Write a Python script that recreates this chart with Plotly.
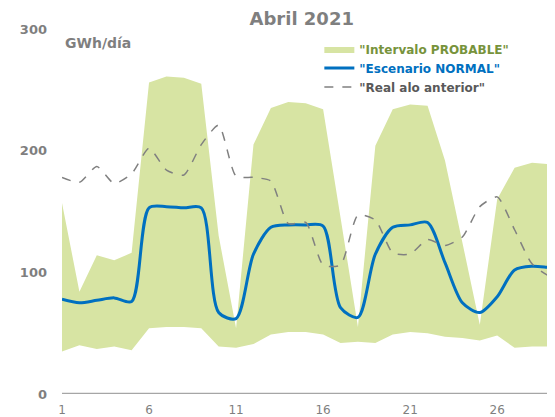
import plotly.graph_objects as go

days = list(range(1, 31))
band_upper = [157, 84, 114, 110, 116, 256, 261, 260, 255, 130, 54, 205, 235, 240, 239, 234, 145, 55, 204, 234, 238, 237, 192, 125, 57, 160, 186, 190, 189, 188]
band_lower = [35, 40, 37, 39, 36, 54, 55, 55, 54, 39, 38, 41, 49, 51, 51, 49, 42, 43, 42, 49, 51, 50, 47, 46, 44, 48, 38, 39, 39, 39]
normal = [78, 75, 77, 79, 76, 153, 154, 153, 153, 67, 62, 115, 137, 139, 139, 138, 71, 63, 115, 137, 139, 141, 108, 75, 67, 80, 102, 105, 104, 103]
real_prev = [178, 174, 187, 173, 181, 202, 184, 180, 205, 221, 179, 178, 175, 140, 141, 106, 106, 147, 143, 116, 115, 127, 122, 129, 154, 162, 135, 107, 97, 98]

FONT = "DejaVu Sans"
fig = go.Figure()
fig.add_trace(go.Scatter(x=days, y=band_lower, mode="lines", line=dict(width=0, color="#D7E4A3"),
                         showlegend=False, hoverinfo="skip"))
fig.add_trace(go.Scatter(x=days, y=band_upper, mode="lines", line=dict(width=0, color="#D7E4A3"),
                         fill="tonexty", fillcolor="#D7E4A3",
                         name='<span style="color:#77933C">"Intervalo PROBABLE"</span>'))
fig.add_trace(go.Scatter(x=days, y=normal, mode="lines",
                         line=dict(color="#0070C0", width=3, shape="spline", smoothing=0.8),
                         name='<span style="color:#0070C0">"Escenario NORMAL"</span>'))
fig.add_trace(go.Scatter(x=days, y=real_prev, mode="lines",
                         line=dict(color="#808080", width=1.5, dash="dash", shape="spline", smoothing=0.6),
                         name='<span style="color:#595959">"Real alo anterior"</span>'))

# the page has an 8px body margin, so the figure is sized to fit the 555x417 window
fig.update_layout(
    width=547, height=409,
    margin=dict(l=54, r=0, t=21, b=21),
    paper_bgcolor="white", plot_bgcolor="white",
    font=dict(family=FONT, color="#7f7f7f"),
    title=dict(text="<b>Abril 2021</b>", x=0.537, xanchor="center", y=0.975, yanchor="middle",
               font=dict(size=18, color="#7f7f7f", family=FONT)),
    showlegend=True,
    legend=dict(x=0.522, y=0.985, xanchor="left", yanchor="top", bgcolor="rgba(255,255,255,0)",
                traceorder="normal",
                font=dict(size=12, family=FONT, weight="bold"), tracegroupgap=0, itemwidth=30),
    xaxis=dict(range=[1, 29.32], tickmode="array", tickvals=[1, 6, 11, 16, 21, 26],
               showgrid=False, zeroline=False, showline=False, ticks="", ticklabelstandoff=7,
               tickfont=dict(size=12, color="#7f7f7f", family=FONT)),
    yaxis=dict(range=[0, 300], tickvals=[0, 100, 200, 300], showgrid=False, zeroline=False,
               showline=False, ticks="", ticklabelstandoff=14,
               tickfont=dict(size=13, color="#7f7f7f", family=FONT, weight="bold")),
    shapes=[dict(type="line", xref="paper", yref="y", x0=0, x1=1, y0=0, y1=0,
                 line=dict(color="#a6a6a6", width=2.5))],
    annotations=[dict(text="<b>GWh/día</b>", xref="paper", yref="paper", x=0.003, y=0.988,
                      xanchor="left", yanchor="top", showarrow=False,
                      font=dict(size=14, color="#7f7f7f", family=FONT))],
)

fig.write_html("out.html")
